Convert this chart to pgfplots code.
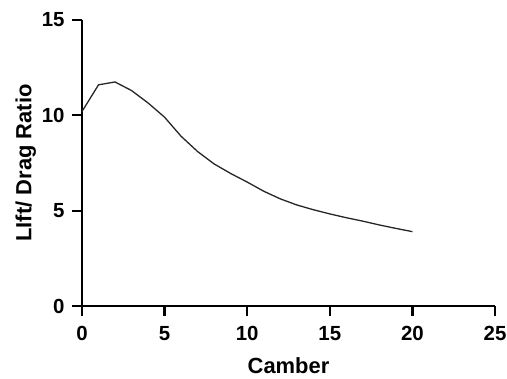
\documentclass[border=0pt]{standalone}
\usepackage{pgfplots}
\pgfplotsset{compat=1.18}
\usepackage{fontspec}
\setmainfont{Liberation Sans}
\newcommand{\tlfont}{\bfseries\fontsize{20.5}{21}\selectfont}
\begin{document}
\begin{tikzpicture}
\begin{axis}[
  name=ax, at={(82bp,73bp)}, anchor=south west,
  scale only axis, width=413bp, height=286bp,
  xmin=0, xmax=25, ymin=0, ymax=15,
  axis x line*=bottom, axis y line*=left,
  axis line style={line width=2.3bp},
  xtick={0,5,10,15,20,25}, ytick={0,5,10,15},
  xticklabels={0,5,10,15,20,25}, yticklabels={0,5,10,15},
  tick align=outside, major tick length=10bp,
  tick style={line width=2.3bp, black},
  minor tick num=0,
  tick label style={font=\tlfont},
  xticklabel style={yshift=-7bp},
  yticklabel style={xshift=-4bp},
  xlabel={Camber}, ylabel={LIft/ Drag Ratio},
  label style={font=\bfseries\fontsize{22}{22}\selectfont},
  xlabel style={at={(axis description cs:0.5,0)}, anchor=base, inner sep=0pt, yshift=-67bp},
  every axis y label/.append style={at={(axis description cs:-0.136,0.5)}, anchor=center},
  clip=false,
]
\addplot[line width=1.3bp, black!85] coordinates {
(0,10.2) (1,11.6) (2,11.75) (3,11.3) (4,10.65) (5,9.9) (6,8.9) (7,8.1)
(8,7.45) (9,6.95) (10,6.5) (11,6.02) (12,5.62) (13,5.3) (14,5.05) (15,4.83)
(16,4.63) (17,4.45) (18,4.25) (19,4.07) (20,3.9)
};
\end{axis}
\pgfresetboundingbox
\path (0,0) rectangle (507bp,379bp);
\end{tikzpicture}
\end{document}
